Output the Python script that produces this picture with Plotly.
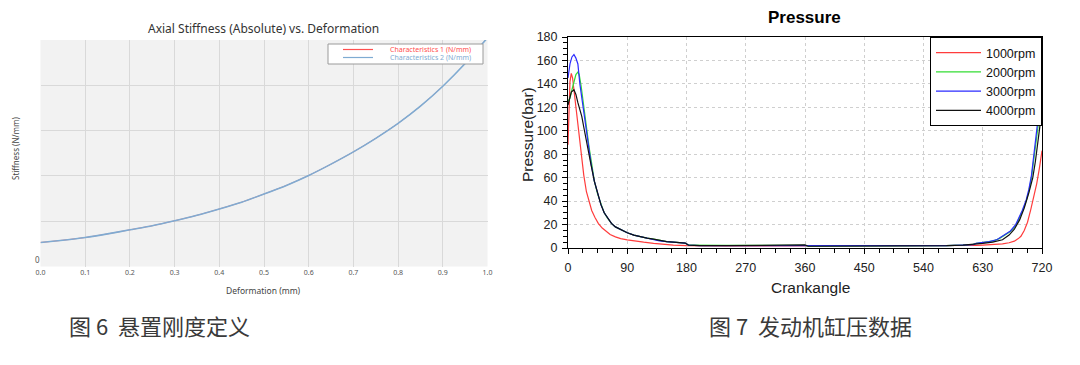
import plotly.graph_objects as go

W, H = 1080, 365
PAGE_MARGIN = 8  # default body margin of the written html page

# ---------------- Left chart data (Fig. 6) ----------------
deformation = [0.0, 0.05, 0.1, 0.15, 0.2, 0.25, 0.3, 0.35, 0.4, 0.45, 0.5, 0.55,
               0.6, 0.65, 0.7, 0.75, 0.8, 0.85, 0.9, 0.95, 1.0]
stiffness_1 = [53, 58, 64, 72, 81, 90, 101, 113, 127, 142, 160, 179,
               201, 226, 253, 283, 316, 354, 398, 448, 505]
stiffness_2 = [53, 58, 64, 72, 81, 90, 101, 113, 127, 142, 160, 179,
               201, 226, 253, 283, 316, 354, 398, 448, 505]
left_x_ticks = [0.0, 0.1, 0.2, 0.3, 0.4, 0.5, 0.6, 0.7, 0.8, 0.9, 1.0]
left_x_ticktext = ["0.0", "0.1", "0.2", "0.3", "0.4", "0.5", "0.6", "0.7", "0.8", "0.9", "1.0"]
left_y_ticks = [0, 100, 200, 300, 400, 500]
left_y_ticktext = ["0", "", "", "", "", ""]
left_names = ["Characteristics 1 (N/mm)", "Characteristics 2 (N/mm)"]
left_colors = ["#ff4f4f", "#7fabd2"]

# ---------------- Right chart data (Fig. 7) ----------------
crank_1000 = [0, 1, 2, 3, 5, 7, 9, 12, 15, 18, 21, 24, 28, 32, 36, 41, 46, 52, 58, 64,
              72, 80, 90, 100, 115, 130, 145, 160, 180, 200, 240, 300, 360, 420, 480,
              540, 570, 600, 620, 630, 640, 650, 660, 670, 678, 684, 688, 693, 698,
              703, 708, 712, 716, 720]
p_1000 = [88, 110, 130, 142, 149, 145, 135, 121, 105, 88, 74, 62, 48, 39, 32, 26, 21, 17, 14, 11.5,
          9.5, 8, 7, 6, 5, 4, 3, 2.5, 2, 1.8, 1.7, 1.8, 1.8, 1.8, 1.8,
          1.8, 1.8, 1.9, 2.2, 2.5, 2.8, 3, 3.5, 4.5, 5.8, 8, 10, 15, 22,
          33, 45, 55, 68, 83]

crank_2000 = [0, 3, 6, 9, 12, 15, 17, 20, 23, 26, 29, 32, 36, 40, 45, 50, 55, 60, 66, 72,
              80, 90, 100, 110, 120, 130, 140, 150, 165, 178, 183, 200, 240, 300, 360,
              365, 420, 480, 540, 575, 600, 615, 620, 630, 645, 655, 665, 672, 680, 685,
              690, 696, 700, 704, 708, 712, 716, 720]
p_2000 = [125, 128, 135, 142, 148, 150, 148, 138, 125, 110, 97, 86, 72, 57, 46, 37, 30, 25.5, 21, 18,
          15.5, 13, 11, 9.5, 8.5, 7.5, 6.5, 5.5, 4.8, 4.2, 2.4, 2.2, 2.2, 2.2, 2.2,
          1.5, 1.5, 1.5, 1.5, 2, 2.5, 3, 4, 4.5, 5.8, 8, 11.5, 14, 19, 24.5,
          31, 40, 48, 60, 77, 96, 115, 130]

crank_3000 = [0, 3, 6, 9, 12, 15, 18, 21, 24, 27, 30, 35, 40, 45, 50, 55, 60, 66, 72, 80,
              90, 100, 114, 125, 139, 150, 165, 178, 183, 200, 240, 300, 360, 365, 420,
              480, 540, 575, 600, 616, 620, 630, 640, 652, 665, 672, 680, 685, 690, 696,
              700, 704, 708, 712, 716, 720]
p_3000 = [145, 157, 163, 165, 162, 157, 140, 128, 114, 100, 88, 72, 57, 46, 37, 30, 25.5, 21, 18, 15.5,
          13, 11, 9, 7.5, 6, 5.5, 5, 4.2, 2.5, 2, 2, 2, 2, 1.5, 1.5,
          1.5, 1.5, 2, 2.5, 2.9, 4, 4.5, 5.5, 7.2, 12, 14.5, 20, 25.5, 32, 41,
          50, 62, 80, 100, 120, 140]

crank_4000 = [0, 2, 5, 9, 12, 15, 18, 21, 24, 27, 30, 35, 40, 45, 50, 55, 60, 66, 72, 80,
              90, 100, 110, 120, 130, 140, 150, 165, 178, 183, 200, 240, 300, 360, 365,
              420, 480, 540, 575, 600, 615, 630, 645, 660, 670, 678, 686, 693, 700, 706,
              710, 714, 718, 720]
p_4000 = [122, 127, 133, 135, 131, 124, 118, 112, 103, 95, 86, 71, 57, 46, 37, 30, 25.5, 21, 18, 15.5,
          13, 11, 9.5, 8.5, 7.5, 6.5, 5.5, 4.8, 4.2, 2.5, 2, 2, 2.6, 2.6, 1.5,
          1.5, 1.5, 1.5, 2, 2.5, 3, 4, 5, 7, 11, 16, 24, 34, 47, 60,
          74, 90, 106, 118]

rpm_names = ["1000rpm", "2000rpm", "3000rpm", "4000rpm"]
rpm_colors = ["#ff3c3c", "#33dd33", "#2b2bff", "#111111"]
right_x_ticks = [0, 90, 180, 270, 360, 450, 540, 630, 720]
right_y_ticks = [0, 20, 40, 60, 80, 100, 120, 140, 160, 180]

captions = ["图 6  悬置刚度定义", "图 7  发动机缸压数据"]

FW, FH = W - PAGE_MARGIN, H - PAGE_MARGIN


def fx(px):
    return (px - PAGE_MARGIN) / FW


def fy(py):
    return 1 - (py - PAGE_MARGIN) / FH


fig = go.Figure()

# left chart traces (characteristic 2 drawn on top, hiding the identical characteristic 1)
for ys, name, col, wd in zip([stiffness_1, stiffness_2], left_names, left_colors, [0.8, 1.6]):
    fig.add_trace(go.Scatter(x=deformation, y=ys, mode="lines", name=name,
                             line=dict(color=col, width=wd, shape="spline", smoothing=0.6),
                             xaxis="x", yaxis="y", showlegend=False, hoverinfo="skip"))

# right chart traces
for xs, ys, name, col in zip([crank_1000, crank_2000, crank_3000, crank_4000],
                             [p_1000, p_2000, p_3000, p_4000], rpm_names, rpm_colors):
    fig.add_trace(go.Scatter(x=xs, y=ys, mode="lines", name=name,
                             line=dict(color=col, width=1.2),
                             xaxis="x2", yaxis="y2", showlegend=True))

shapes = [
    # left plot background
    dict(type="rect", xref="x domain", yref="y domain", x0=0, x1=1, y0=0, y1=1,
         fillcolor="#f2f2f2", line=dict(width=0), layer="below"),
    # left legend box
    dict(type="rect", xref="paper", yref="paper", x0=fx(328), x1=fx(483), y0=fy(64), y1=fy(44),
         fillcolor="white", line=dict(color="#9a9a9a", width=1), layer="above"),
]
annotations = []
for i, (name, col) in enumerate(zip(left_names, left_colors)):
    yy = 49.5 + 8 * i
    shapes.append(dict(type="line", xref="paper", yref="paper", x0=fx(343), x1=fx(373),
                       y0=fy(yy), y1=fy(yy), line=dict(color=col, width=1.2), layer="above"))
    annotations.append(dict(text=name, xref="paper", yref="paper", x=fx(473), y=fy(yy),
                            xanchor="right", yanchor="middle", showarrow=False,
                            font=dict(family="Noto Sans", size=7, color=col)))

ann_specs = [
    ("Axial Stiffness (Absolute) vs. Deformation", 263, 28, 12, "#333333", "Noto Sans", 0),
    ("Deformation (mm)", 263, 290, 8.5, "#444444", "Noto Sans", 0),
    ("Stiffness (N/mm)", 16, 149, 8, "#444444", "Noto Sans", -90),
    ("<b>Pressure</b>", 804, 17, 17, "#000000", "Liberation Sans", 0),
    ("Crankangle", 810, 287, 15.5, "#222222", "Liberation Sans", 0),
    ("Pressure(bar)", 527, 135, 15.5, "#222222", "Liberation Sans", -90),
]
for text, px, py, size, col, fam, ang in ann_specs:
    annotations.append(dict(text=text, xref="paper", yref="paper", x=fx(px), y=fy(py),
                            xanchor="center", yanchor="middle", showarrow=False, textangle=ang,
                            font=dict(family=fam, size=size, color=col)))

for cap, px in zip(captions, [67, 707]):
    annotations.append(dict(text=cap, xref="paper", yref="paper", x=fx(px), y=fy(325),
                            xanchor="left", yanchor="middle", showarrow=False,
                            font=dict(family="Noto Sans CJK SC", size=22, color="#3a3a3a")))

right_axis_common = dict(showline=True, linecolor="black", linewidth=1, mirror=True,
                         ticks="outside", ticklen=5, tickcolor="black", automargin=False,
                         showgrid=True, gridcolor="#cfcfcf", griddash="dot", gridwidth=1,
                         zeroline=False,
                         tickfont=dict(family="Liberation Sans", size=12.5, color="#222222"))

fig.update_layout(
    template="none",
    width=FW, height=FH,
    margin=dict(l=0, r=0, t=0, b=0, autoexpand=False),
    paper_bgcolor="white",
    plot_bgcolor="rgba(0,0,0,0)",
    showlegend=True,
    xaxis=dict(domain=[fx(40.5), fx(487.5)], range=[0, 1], tickvals=left_x_ticks,
               ticktext=left_x_ticktext, showgrid=True, gridcolor="#d9d9d9", zeroline=False,
               showline=False, ticks="", anchor="y", automargin=False,
               tickfont=dict(family="Noto Sans", size=7, color="#555555")),
    yaxis=dict(domain=[fy(266.5), fy(40)], range=[0, 500], tickvals=left_y_ticks,
               ticktext=left_y_ticktext, showgrid=True, gridcolor="#d9d9d9", zeroline=False,
               showline=False, ticks="", anchor="x", automargin=False, ticklabelshift=-6,
               tickfont=dict(family="Noto Sans", size=8, color="#555555")),
    xaxis2=dict(domain=[fx(568), fx(1042)], range=[0, 720], tickvals=right_x_ticks,
                anchor="y2", ticklabelstandoff=3,
                minor=dict(dtick=22.5, ticks="outside", ticklen=4, tickcolor="black"),
                **right_axis_common),
    yaxis2=dict(domain=[fy(248), fy(37)], range=[0, 180], tickvals=right_y_ticks,
                anchor="x2", ticklabelstandoff=2,
                minor=dict(dtick=5, ticks="outside", ticklen=4, tickcolor="black"),
                **right_axis_common),
    legend=dict(x=fx(1042), y=fy(37), xanchor="right", yanchor="top", xref="paper", yref="paper",
                bgcolor="white", bordercolor="black", borderwidth=1, itemwidth=45,
                font=dict(family="Liberation Sans", size=12.5, color="#111111"),
                tracegroupgap=0),
    shapes=shapes,
    annotations=annotations,
)

fig.write_html("out.html")
